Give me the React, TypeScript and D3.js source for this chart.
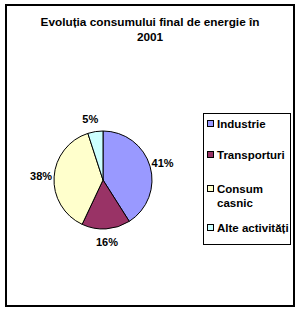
import React from 'react'
import { arc, pie, scaleOrdinal } from 'd3'

const categories = ['Industrie', 'Transporturi', 'Consum casnic', 'Alte activități']
const values = [41, 16, 38, 5]
const legendLines = [['Industrie'], ['Transporturi'], ['Consum', 'casnic'], ['Alte activități']]
const colors = ['#9999FF', '#993366', '#FFFFCC', '#CCFFFF']

const font = 'Arial, "Liberation Sans", sans-serif'

function App() {
  const cx = 103, cy = 180, r = 49

  const color = scaleOrdinal<string, string>().domain(categories).range(colors)
  const slices = pie<number>().sort(null).startAngle(0).endAngle(2 * Math.PI)(values)
  const arcGen = arc<any>().innerRadius(0).outerRadius(r)
  const labelArc = arc<any>().innerRadius(r + 13).outerRadius(r + 13)

  const legendY = [124, 155, 189, 228]

  return (
    <svg width={300} height={312} style={{ position: 'absolute', left: 0, top: 0 }}>
      <rect x={0} y={0} width={300} height={312} fill="white" />
      <rect x={6} y={5} width={288} height={301} fill="white" stroke="black" strokeWidth={2} />
      <text x={150} y={26} textAnchor="middle" fontFamily={font} fontWeight="bold" fontSize={11.8}>
        Evoluția consumului final de energie în
      </text>
      <text x={150} y={41} textAnchor="middle" fontFamily={font} fontWeight="bold" fontSize={11.8}>
        2001
      </text>
      <g transform={`translate(${cx},${cy})`}>
        {slices.map((s, i) => (
          <path key={i} d={arcGen(s) || ''} fill={color(categories[i])} stroke="black" strokeWidth={1} />
        ))}
        {slices.map((s, i) => {
          const [x, y] = labelArc.centroid(s)
          const dx = i === 3 ? -3 : 0
          return (
            <text key={'l' + i} x={x + dx} y={y} dy="0.35em" textAnchor="middle"
              fontFamily={font} fontWeight="bold" fontSize={11}>
              {values[i]}%
            </text>
          )
        })}
      </g>
      <rect x={203.5} y={113.5} width={87} height={131} fill="white" stroke="black" strokeWidth={1} />
      {legendLines.map((lines, i) => (
        <g key={i}>
          <rect x={207.5} y={legendY[i] - 3.5} width={6} height={6} fill={colors[i]} stroke="black" strokeWidth={1} />
          {lines.map((t, j) => (
            <text key={j} x={217} y={legendY[i] + j * 14} dy="0.35em" fontFamily={font}
              fontWeight="bold" fontSize={11.5}>
              {t}
            </text>
          ))}
        </g>
      ))}
    </svg>
  )
}

export default App
